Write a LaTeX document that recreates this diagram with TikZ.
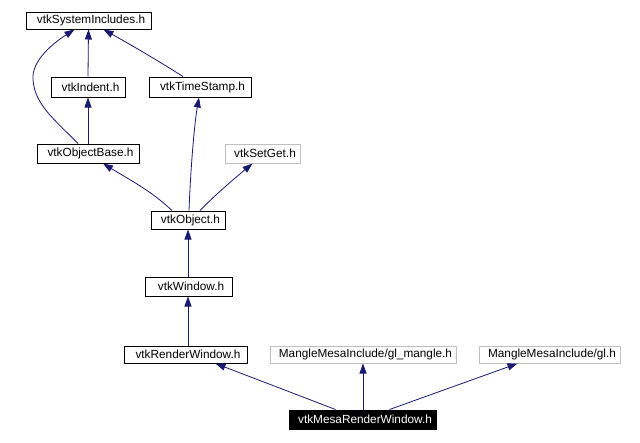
\documentclass[tikz,border=0pt]{standalone}
\usepackage{fontspec}
\setmainfont{Liberation Sans}
\usetikzlibrary{arrows.meta,calc}
\definecolor{edgec}{HTML}{191970}
\definecolor{greyb}{HTML}{BFBFBF}
\begin{document}
\begin{tikzpicture}[x=1pt,y=-1pt,
  box/.style={draw=black,line width=1pt,inner sep=0pt,font=\fontsize{11.8}{14}\selectfont,text=black,execute at begin node={\hspace*{5pt}}},
  gbox/.style={box,draw=greyb},
  sel/.style={box,fill=black,text=white},
  dep/.style={draw=edgec,line width=0.8pt,-{Triangle[length=10pt,width=7pt]}}]
\useasboundingbox[fill=white] (0,0) rectangle (640,442);
\node[box,minimum width=125pt,minimum height=17pt] (si) at (88.5,20.5) {vtkSystemIncludes.h};
\node[box,minimum width=74pt,minimum height=20pt] (ind) at (88,87) {vtkIndent.h};
\node[box,minimum width=102pt,minimum height=20pt] (ts) at (200,87) {vtkTimeStamp.h};
\node[box,minimum width=102pt,minimum height=19pt] (ob) at (88,153.5) {vtkObjectBase.h};
\node[gbox,minimum width=75pt,minimum height=19pt] (sg) at (262.5,153.5) {vtkSetGet.h};
\node[box,minimum width=74pt,minimum height=18pt] (obj) at (188,220) {vtkObject.h};
\node[box,minimum width=87pt,minimum height=19pt] (win) at (188.5,286.5) {vtkWindow.h};
\node[box,minimum width=123pt,minimum height=17pt] (rw) at (185.5,354.5) {vtkRenderWindow.h};
\node[gbox,minimum width=186pt,minimum height=17pt] (glm) at (363,354.5) {MangleMesaInclude/gl\_mangle.h};
\node[gbox,minimum width=141pt,minimum height=17pt] (gl) at (549.5,354.5) {MangleMesaInclude/gl.h};
\node[sel,minimum width=147pt,minimum height=19pt] (mesa) at (362.5,419.5) {vtkMesaRenderWindow.h};

\draw[dep] (ind.north) -- (si.south);
\draw[dep] ($(ob.north)+(-10,0)$) .. controls (55,120) and (35,105) .. (33,80)
  .. controls (31,60) and (55,42) .. ($(si.south)+(-14,0)$);
\draw[dep] ($(ts.north)+(-17,0)$) .. controls (160,62) and (140,50) .. ($(si.south)+(15,0)$);
\draw[dep] (ob.north -| ind.south) -- (ind.south);
\draw[dep] ($(obj.north)+(-16,0)$) .. controls (150,190) and (130,180) .. ($(ob.south)+(15,0)$);
\draw[dep] ($(obj.north)+(1,0)$) .. controls (191,160) and (195,120) .. ($(ts.south)+(-1,0)$);
\draw[dep] ($(obj.north)+(12,0)$) .. controls (215,195) and (235,178) .. ($(sg.south)+(-10,0)$);
\draw[dep] (win.north -| obj.south) -- (obj.south);
\draw[dep] (rw.north -| obj.south) -- (win.south -| obj.south);
\draw[dep] ($(mesa.north)+(-27,0)$) -- ($(rw.south)+(30,0)$);
\draw[dep] (mesa.north -| glm.south) -- (glm.south);
\draw[dep] ($(mesa.north)+(27,0)$) -- ($(gl.south)+(-32,0)$);
\end{tikzpicture}
\end{document}
